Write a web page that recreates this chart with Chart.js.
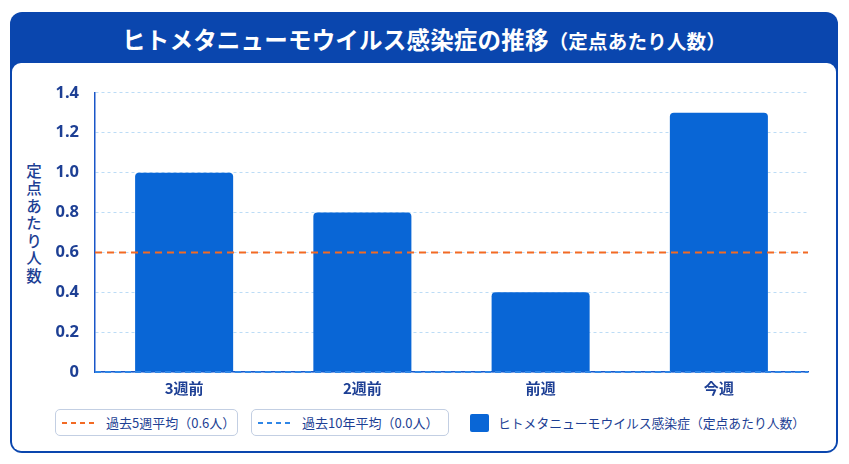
<!DOCTYPE html>
<html lang="ja">
<head>
<meta charset="utf-8">
<script src="https://cdn.jsdelivr.net/npm/chart.js@4.4.1/dist/chart.umd.min.js"></script>
<style>
    body { margin: 0; width: 849px; height: 464px; background: #ffffff; font-family: "Noto Sans CJK JP", "Noto Sans", sans-serif; overflow: hidden; }
    .card { position: absolute; left: 10px; top: 12px; width: 828px; height: 441px; background: #0a46ae; border-radius: 12px; box-sizing: border-box; }
    .header { position: absolute; left: 0; top: 0; width: 100%; height: 52px; color: #fff; font-weight: 700; font-size: 23.5px; text-align: center; line-height: 54px; letter-spacing: 0.2px; }
    .header small { font-size: 19.5px; }
    .body { position: absolute; left: 2px; top: 51px; right: 2px; bottom: 2px; background: #fff; border-radius: 9px; }
    .ylabel { position: absolute; left: 23px; top: 163px; writing-mode: vertical-rl; text-orientation: upright; font-size: 15.5px; color: #1d3f94; font-weight: 500; letter-spacing: 2px; }
    .chart-wrap { position: absolute; left: 0; top: 67px; width: 820px; height: 333px; }
    .legend-box { position: absolute; top: 409px; height: 27px; border: 1px solid #c3cfe3; border-radius: 5px; box-sizing: border-box; display: flex; align-items: center; font-size: 13px; color: #1d3f94; }
    .dash { display: inline-block; width: 36px; height: 2px; margin: 0 8px 0 6px; }
    .swatch { position: absolute; left: 470px; top: 414px; width: 19px; height: 18px; border-radius: 2px; }
    .legend-text { position: absolute; left: 498px; top: 413px; font-size: 12.8px; color: #1d3f94; line-height: 20px; }
</style>
</head>
<body>
<div class="card">
    <div class="header" id="title"></div>
    <div class="body"></div>
</div>
<div class="ylabel" id="yLabel"></div>
<div class="chart-wrap"><canvas id="trendChart"></canvas></div>
<div class="legend-box" id="legendAvg5" style="left:55px;width:183px;"></div>
<div class="legend-box" id="legendAvg10" style="left:251px;width:198px;"></div>
<div class="swatch" id="legendSwatch"></div>
<div class="legend-text" id="legendBars"></div>

<script>
// Data
const weeks = ['3週前', '2週前', '前週', '今週'];
const perSite = [1.0, 0.8, 0.4, 1.3];
const yTicks = [0, 0.2, 0.4, 0.6, 0.8, 1.0, 1.2, 1.4];
const avg5Weeks = 0.6;
const avg10Years = 0.0;

const seriesName = 'ヒトメタニューモウイルス感染症（定点あたり人数）';
const avg5Label = '過去5週平均（' + avg5Weeks.toFixed(1) + '人）';
const avg10Label = '過去10年平均（' + avg10Years.toFixed(1) + '人）';

const barColor = '#0966d6';
const avg5Color = '#f26a24';
const avg10Color = '#2f86e6';
const textColor = '#1d3f94';

document.getElementById('title').innerHTML = 'ヒトメタニューモウイルス感染症の推移<small>（定点あたり人数）</small>';
document.getElementById('yLabel').textContent = '定点あたり人数';

function dashBackground(color) {
    return `repeating-linear-gradient(90deg, ${color} 0 5px, transparent 5px 9px)`;
}

function buildLegend() {
    const a5 = document.getElementById('legendAvg5');
    a5.innerHTML = `<span class="dash" style="background:${dashBackground(avg5Color)}"></span>${avg5Label}`;
    const a10 = document.getElementById('legendAvg10');
    a10.innerHTML = `<span class="dash" style="background:${dashBackground(avg10Color)}"></span>${avg10Label}`;
    document.getElementById('legendSwatch').style.background = barColor;
    document.getElementById('legendBars').textContent = seriesName;
}

// Horizontal average lines drawn across the whole plot through the y scale
const avgLines = {
    id: 'avgLines',
    afterDatasetsDraw(chart) {
        const { ctx, chartArea, scales } = chart;
        const lines = [
            { value: avg10Years, color: avg10Color, dash: [6, 4] },
            { value: avg5Weeks, color: avg5Color, dash: [7, 5] }
        ];
        ctx.save();
        lines.forEach(line => {
            const y = scales.y.getPixelForValue(line.value);
            ctx.beginPath();
            ctx.setLineDash(line.dash);
            ctx.lineWidth = 2;
            ctx.strokeStyle = line.color;
            ctx.moveTo(chartArea.left, y);
            ctx.lineTo(chartArea.right, y);
            ctx.stroke();
        });
        ctx.restore();
    }
};

const ctx = document.getElementById('trendChart').getContext('2d');
new Chart(ctx, {
    type: 'bar',
    data: {
        labels: weeks,
        datasets: [{
            label: seriesName,
            data: perSite,
            backgroundColor: barColor,
            borderRadius: { topLeft: 4, topRight: 4 },
            borderSkipped: 'bottom',
            barPercentage: 0.55,
            categoryPercentage: 1.0
        }]
    },
    options: {
        responsive: true,
        maintainAspectRatio: false,
        animation: false,
        layout: { padding: { top: 19, right: 12, left: 0, bottom: 0 } },
        plugins: {
            legend: { display: false },
            tooltip: { enabled: false }
        },
        scales: {
            x: {
                grid: { display: false, drawTicks: false },
                border: { display: true, color: '#1a56c8', width: 1.5 },
                ticks: {
                    color: textColor,
                    font: { family: '"Noto Sans CJK JP", sans-serif', size: 15, weight: 'bold' },
                    padding: 7
                },
                afterFit(scale) { scale.height = 28; }
            },
            y: {
                min: 0,
                max: 1.4,
                afterBuildTicks(scale) {
                    scale.ticks = yTicks.map(v => ({ value: v }));
                },
                grid: {
                    color: '#bcdcf6',
                    lineWidth: 1,
                    drawTicks: false
                },
                border: { display: true, color: '#1a56c8', width: 1.5, dash: [3, 3] },
                ticks: {
                    color: textColor,
                    font: { family: '"Noto Sans", sans-serif', size: 16.5, weight: 'bold' },
                    padding: 16,
                    callback: function(value) {
                        return value === 0 ? '0' : Number(value).toFixed(1);
                    }
                },
                afterFit(scale) { scale.width = 95; }
            }
        }
    },
    plugins: [avgLines]
});

buildLegend();
</script>
</body>
</html>
